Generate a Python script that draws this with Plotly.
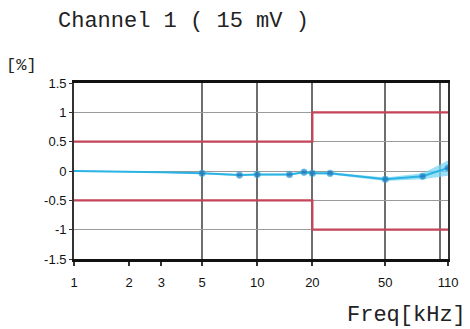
import math
import plotly.graph_objects as go

# Measured deviation of channel 1 (15 mV) versus frequency
freq_khz = [1, 2, 3, 5, 8, 10, 15, 18, 20, 25, 50, 80, 110]
deviation_pct = [0.0, -0.01, -0.02, -0.04, -0.07, -0.06, -0.06, -0.02, -0.04, -0.04, -0.14, -0.09, 0.05]
uncertainty_pct = [0.01, 0.01, 0.01, 0.015, 0.015, 0.015, 0.015, 0.015, 0.015, 0.02, 0.03, 0.05, 0.13]
marker_sizes = [0, 0, 0, 6.5, 6.5, 6.5, 6.5, 6.5, 6.5, 6.5, 6.5, 6.5, 6.5]

# Tolerance limits (step at 20 kHz)
limit_freq = [1, 20, 110]
limit_upper = [0.5, 1.0, 1.0]
limit_lower = [-0.5, -1.0, -1.0]

x_tickvals = [1, 2, 3, 5, 10, 20, 50, 110]
x_ticktext = ["1", "2", "3", "5", "10", "20", "50", "110"]
x_gridvals = [5, 10, 20, 50, 100]
y_tickvals = [-1.5, -1, -0.5, 0, 0.5, 1, 1.5]
y_ticktext = ["-1.5", "-1", "-0.5", "0", "0.5", "1", "1.5"]

band_hi = [v + u for v, u in zip(deviation_pct, uncertainty_pct)]
band_lo = [v - u for v, u in zip(deviation_pct, uncertainty_pct)]

fig = go.Figure()

limit_color = "#c4455a"
fig.add_trace(go.Scatter(x=limit_freq, y=limit_upper, mode="lines", line_shape="hv",
                         line=dict(color=limit_color, width=2.2), hoverinfo="skip"))
fig.add_trace(go.Scatter(x=limit_freq, y=limit_lower, mode="lines", line_shape="hv",
                         line=dict(color=limit_color, width=2.2), hoverinfo="skip"))

# Uncertainty band
fig.add_trace(go.Scatter(x=freq_khz, y=band_hi, mode="lines", line=dict(width=0, color="#9fe3f7"),
                         hoverinfo="skip"))
fig.add_trace(go.Scatter(x=freq_khz, y=band_lo, mode="lines", line=dict(width=0, color="#9fe3f7"),
                         fill="tonexty", fillcolor="rgba(120,215,245,0.75)", hoverinfo="skip"))

fig.add_trace(go.Scatter(x=freq_khz, y=deviation_pct, mode="lines+markers",
                         line=dict(color="#2bb3e3", width=2),
                         marker=dict(size=marker_sizes, color="#1f6fb5")))

mono = "Liberation Mono, Courier New, monospace"
sans = "Liberation Sans, Arial, sans-serif"

fig.update_layout(
    width=470, height=329,
    margin=dict(l=74, r=20, t=83, b=70),
    paper_bgcolor="white", plot_bgcolor="white",
    showlegend=False,
    font=dict(family=sans, size=13, color="#111"),
    xaxis=dict(
        type="log", range=[0, math.log10(110)],
        tickmode="array", tickvals=x_tickvals, ticktext=x_ticktext,
        showgrid=False, ticks="outside", ticklen=4, tickcolor="#333", tickwidth=1.5,
        ticklabelstandoff=6,
        showline=True, linecolor="#111", linewidth=2.5, mirror=True,
        minor=dict(tickmode="array", tickvals=x_gridvals, showgrid=True,
                   gridcolor="#6e6e6e", gridwidth=1.5, ticklen=0),
        tickfont=dict(family=sans, size=13, color="#111"),
        zeroline=False,
    ),
    yaxis=dict(
        range=[-1.5, 1.5],
        tickmode="array", tickvals=y_tickvals, ticktext=y_ticktext,
        showgrid=True, gridcolor="#9a9a9a", gridwidth=1.2,
        ticks="outside", ticklen=3, tickcolor="#333",
        showline=True, linecolor="#333", linewidth=1.8, mirror=True,
        tickfont=dict(family=sans, size=13, color="#111"),
        zeroline=False,
    ),
    annotations=[
        dict(text="Channel 1 ( 15 mV )", xref="paper", yref="paper", x=-0.06, y=1,
             xanchor="left", yanchor="bottom", xshift=4, yshift=47, showarrow=False,
             font=dict(family=mono, size=22, color="#222")),
        dict(text="[%]", x=0, y=1, xref="paper", yref="paper", xanchor="left",
             xshift=-70, yshift=6, yanchor="bottom", showarrow=False,
             font=dict(family=mono, size=17, color="#222")),
        dict(text="Freq[kHz]", x=1, y=0, xref="paper", yref="paper", xanchor="right",
             xshift=20, yshift=-42, yanchor="top", showarrow=False,
             font=dict(family=mono, size=22, color="#222")),
    ],
)

fig.write_html("out.html")
